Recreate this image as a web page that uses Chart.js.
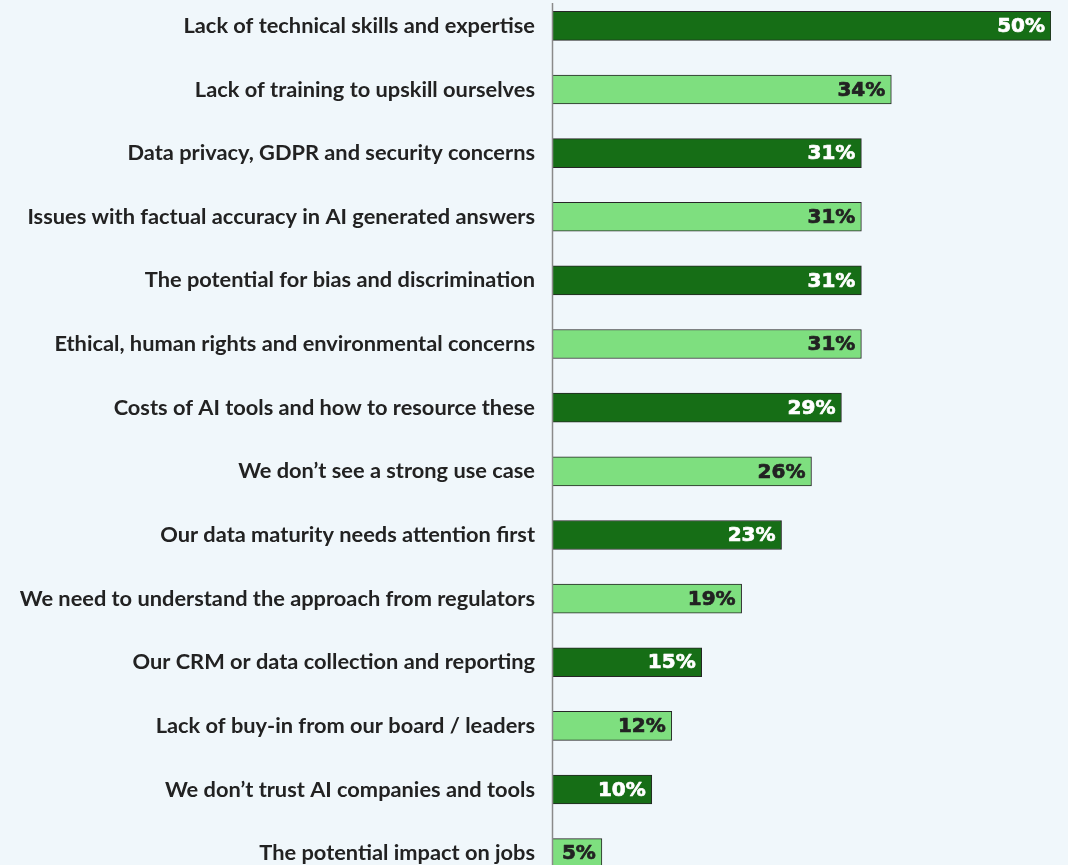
<!DOCTYPE html>
<html>
<head>
<meta charset="utf-8">
<script src="https://cdn.jsdelivr.net/npm/chart.js@4/dist/chart.umd.min.js"></script>
<style>
  html, body { margin: 0; padding: 0; background: #f0f7fb; }
  #frame { position: relative; width: 1068px; height: 865px; overflow: hidden; background: #f0f7fb; }
  #wrap { position: absolute; left: 0; top: -10px; width: 1068px; height: 900px; }
</style>
</head>
<body>
<div id="frame"><div id="wrap"><canvas id="c"></canvas></div></div>
<script>
const categories = [
  "Lack of technical skills and expertise",
  "Lack of training to upskill ourselves",
  "Data privacy, GDPR and security concerns",
  "Issues with factual accuracy in AI generated answers",
  "The potential for bias and discrimination",
  "Ethical, human rights and environmental concerns",
  "Costs of AI tools and how to resource these",
  "We don\u2019t see a strong use case",
  "Our data maturity needs attention first",
  "We need to understand the approach from regulators",
  "Our CRM or data collection and reporting",
  "Lack of buy-in from our board / leaders",
  "We don\u2019t trust AI companies and tools",
  "The potential impact on jobs"
];
const values = [50, 34, 31, 31, 31, 31, 29, 26, 23, 19, 15, 12, 10, 5];
const darkGreen = "#166e16";
const lightGreen = "#7edf7f";
const barColors = values.map((v, i) => i % 2 === 0 ? darkGreen : lightGreen);
const labelColors = values.map((v, i) => i % 2 === 0 ? "#ffffff" : "#222222");

const valueLabels = {
  id: "valueLabels",
  afterDatasetsDraw(chart) {
    const ctx = chart.ctx;
    const meta = chart.getDatasetMeta(0);
    ctx.save();
    ctx.font = "bold 20px 'DejaVu Sans'";
    ctx.textAlign = "right";
    ctx.textBaseline = "middle";
    ctx.lineWidth = 0.7;
    ctx.lineJoin = "round";
    meta.data.forEach((bar, i) => {
      ctx.fillStyle = labelColors[i];
      ctx.strokeStyle = labelColors[i];
      ctx.fillText(values[i] + "%", bar.x - 6, bar.y + 1);
      ctx.strokeText(values[i] + "%", bar.x - 6, bar.y + 1);
    });
    // axis line
    const a = chart.chartArea;
    ctx.strokeStyle = "#8a8a8a";
    ctx.lineWidth = 1.5;
    ctx.beginPath();
    ctx.moveTo(a.left + 0.5, 13);
    ctx.lineTo(a.left + 0.5, a.bottom + 10);
    ctx.stroke();
    ctx.restore();
  }
};

new Chart(document.getElementById("c"), {
  type: "bar",
  data: {
    labels: categories,
    datasets: [{
      data: values,
      backgroundColor: barColors,
      borderColor: "#262626",
      borderWidth: 1,
      borderSkipped: false,
      barThickness: 29
    }]
  },
  options: {
    indexAxis: "y",
    responsive: true,
    maintainAspectRatio: false,
    animation: false,
    layout: { padding: { top: 4, bottom: 5, right: 17, left: 0 } },
    plugins: { legend: { display: false }, tooltip: { enabled: false } },
    scales: {
      x: {
        min: 0, max: 50,
        display: false
      },
      y: {
        grid: { display: false, drawTicks: false },
        border: { display: false },
        afterFit(scale) {
          scale.width = 552;
          scale.paddingTop = 0;
          scale.paddingBottom = 0;
        },
        ticks: {
          padding: 17,
          color: "#222222",
          font: { family: "Lato", weight: "bold", size: 21.8 }
        }
      }
    }
  },
  plugins: [valueLabels]
});
</script>
</body>
</html>
